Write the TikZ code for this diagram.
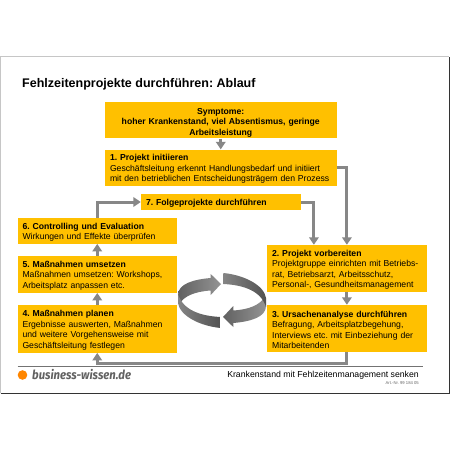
\documentclass[tikz,border=0pt]{standalone}
\usepackage{fontspec}
\setmainfont{Liberation Sans}
\newfontfamily\logofont[FakeStretch=0.9]{Fira Sans}
\usetikzlibrary{arrows.meta,calc}
\definecolor{boxc}{HTML}{FFC000}
\definecolor{linec}{gray}{0.53}
\newcommand\tp{\rule{0pt}{8.8pt}}
\newcommand\tps{\rule{0pt}{10.6pt}}
\tikzset{
 x=1pt,y=-1pt,
 stepbox/.style={fill=boxc,draw=none,inner xsep=5pt,inner ysep=0pt,align=left,font=\fontsize{8.65}{10.5}\selectfont,text=black},
 wideb/.style={stepbox,text width=221.5pt,minimum width=231.5pt},
 narrowb/.style={stepbox,text width=149.5pt,minimum width=159.5pt},
 link/.style={draw=linec,line width=3pt,-{Triangle[width=9.5pt,length=7.5pt]}},
}
\begin{document}
\frenchspacing
\begin{tikzpicture}
\useasboundingbox (0,0) rectangle (450,450);
\fill[white] (0,0) rectangle (450,450);
\draw[gray!45,line width=1pt] (0.5,393) -- (0.5,56.5) -- (449.3,56.5);
\draw[black!80,line width=1pt] (0.5,393.5) -- (449.3,393.5) -- (449.3,56.5);
\node[anchor=base west,inner sep=0pt,font=\bfseries\fontsize{12.5}{15}\selectfont] (title) at (22,87) {Fehlzeitenprojekte durchführen: Ablauf};
\node[wideb,minimum height=36.5pt,align=center] (sym) at (220.75,120.2) {\bfseries\tps Symptome:\\hoher Krankenstand, viel Absentismus, geringe\\Arbeitsleistung};
\node[wideb,minimum height=36.5pt] (b1) at (220.75,167.8) {\tp\textbf{1. Projekt initiieren}\\Geschäftsleitung erkennt Handlungsbedarf und initiiert\\mit den betrieblichen Entscheidungsträgern den Prozess};
\node[stepbox,minimum width=159.5pt,text width=149.5pt,minimum height=15.5pt] (b7) at (220.75,202) {\tp\textbf{7. Folgeprojekte durchführen}};
\node[narrowb,minimum height=25.8pt] (b6) at (97.25,230.8) {\tp\textbf{6. Controlling und Evaluation}\\Wirkungen und Effekte überprüfen};
\node[narrowb,minimum height=36.7pt] (b5) at (97.25,274.4) {\tp\textbf{5. Maßnahmen umsetzen}\\Maßnahmen umsetzen: Workshops,\\Arbeitsplatz anpassen etc.};
\node[narrowb,minimum height=47.4pt] (b4) at (97.25,329) {\tp\textbf{4. Maßnahmen planen}\\Ergebnisse auswerten, Maßnahmen\\und weitere Vorgehensweise mit\\Geschäftsleitung festlegen};
\node[narrowb,minimum height=47pt] (b2) at (346.9,268.5) {\tp\textbf{2. Projekt vorbereiten}\\Projektgruppe einrichten mit Betriebs-\\rat, Betriebsarzt, Arbeitsschutz,\\Personal-, Gesundheitsmanagement};
\node[narrowb,minimum height=47pt] (b3) at (346.9,328.5) {\tp\textbf{3. Ursachenanalyse durchführen}\\Befragung, Arbeitsplatzbegehung,\\Interviews etc. mit Einbeziehung der\\Mitarbeitenden};
\coordinate (in2) at ($(b2.north)+(-33,0)$);
\draw[link] (sym.south) -- (b1.north);
\draw[link] (b1.east) -| (b2.north);
\draw[link] (b7.east) -| (in2);
\draw[link] (b6.north) |- (b7.west);
\draw[link] (b5.north) -- (b6.south);
\draw[link] (b4.north) -- (b5.south);
\draw[link] (b2.south) -- (b3.north);
\draw[link] (b3.south) -- ++(0,11.5) -| (b4.south);
% cycle arrows
\def\swoosh{%
 \shade[left color=black!62,right color=black!42]
  (221,284) -- (210.7,274) -- (210.7,278)
  .. controls (193,279.5) and (178,284) .. (178,295)
  -- (179.5,304)
  .. controls (184,296) and (195,291.5) .. (210.7,290.5)
  -- (210.7,295) -- cycle;
 \shade[left color=black!48,right color=black!68]
  (178,294) -- (178,303)
  .. controls (180,316) and (200,326) .. (220.7,328)
  -- (220.7,317)
  .. controls (200,316) and (183,310) .. (178,294) -- cycle;
}
\swoosh
\begin{scope}[shift={(444,601)},xscale=-1,yscale=-1]
\swoosh
\end{scope}
% footer
\draw[black!55,line width=0.8pt] (17.5,366) -- (423,366);
\fill[orange!95!yellow] (22.5,375) circle (4.8);
\node[anchor=base west,inner sep=0pt,text=black!62,font=\logofont\itshape\bfseries\fontsize{12.6}{14}\selectfont] (logo) at (32,379.5) {business-wissen.de};
\node[anchor=base east,inner sep=0pt,font=\fontsize{8.7}{10}\selectfont] (foot) at (419,377) {Krankenstand mit Fehlzeitenmanagement senken};
\node[anchor=base east,inner sep=0pt,text=black!60,font=\fontsize{4.2}{5}\selectfont] (art) at (419,384) {Art.-Nr. 99 184 05};
\end{tikzpicture}
\end{document}
